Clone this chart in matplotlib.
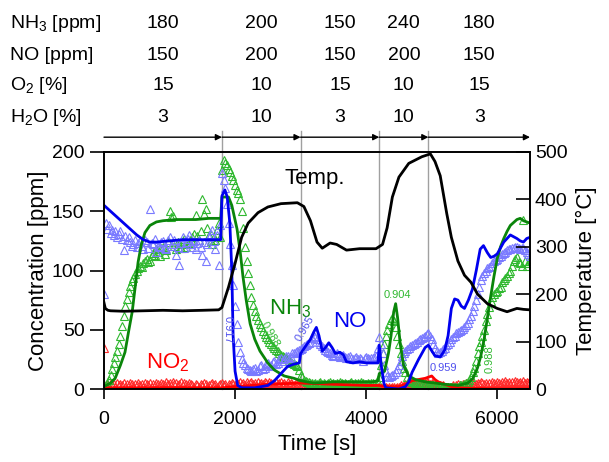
import numpy as np
import matplotlib
matplotlib.use("Agg")
import matplotlib.pyplot as plt
from matplotlib.transforms import blended_transform_factory

plt.rcParams['font.family'] = ['Liberation Sans', 'DejaVu Sans']
plt.rcParams['mathtext.default'] = 'regular'

# experimental points (triangles), sampled every 25 s
t_exp = np.arange(0, 6501, 25)
nh3_exp = (
    [2, 3, 5, 8, 12, 17, 22, 27, 32, 38, 45, 53, 62, 70, 76, 82, 87, 91, 94, 97,
     100, 102, 104, 103, 106, 108, 110, 107, 108, 112, 115, 113, 118, 116, 112, 119, 120, 114, 117, 124]
    + [150, 145, 146, 121, 118, 124, 122, 119, 125, 127, 120, 122, 123, 126, 128, 131, 147, 129, 126, 133,
       160, 148, 152, 136, 130, 125, 122, 128, 126, 134, 140, 128, 185, 193, 191, 189, 186, 183, 180, 176]
    + [172, 168, 165, 160, 150, 136, 120, 108, 98, 88, 78, 71, 66, 62, 58, 55, 52, 49, 46, 44,
       42, 40, 38, 36, 35, 33, 32, 30, 29, 28, 27, 26, 25, 24, 23, 22, 21, 20, 19, 16]
    + [12, 10, 8, 7, 6, 6, 5, 5, 4, 5, 4, 5, 6, 4, 5, 4, 4, 5, 6, 4,
       5, 4, 5, 4, 6, 5, 4, 5, 4, 4, 5, 6, 4, 5, 4, 5, 4, 6, 5, 4]
    + [4, 5, 4, 5, 5, 4, 4, 6, 10, 20, 30, 38, 45, 50, 55, 58, 60, 57, 52, 45,
       38, 30, 24, 18, 14, 10, 8, 7, 6, 6, 5, 5, 5, 4, 4, 4, 4, 3, 3, 3]
    + [3, 3, 3, 2, 2, 2, 2, 2, 2, 2, 2, 2, 2, 2, 2, 2, 2, 3, 3, 3,
       4, 5, 6, 8, 10, 14, 18, 24, 30, 36, 40, 45, 50, 57, 63, 69, 74, 78, 80, 82]
    + [83, 85, 86, 90, 92, 94, 95, 98, 100, 104, 108, 110, 111, 107, 106, 104, 143, 108, 104, 106, 108]
)
no_exp = (
    [80, 140, 135, 138, 132, 134, 130, 133, 128, 131, 133, 127, 117, 129, 126, 128, 124, 121, 122, 126,
     120, 123, 125, 121, 118, 126, 124, 119, 152, 123, 122, 127, 116, 121, 120, 124, 125, 119, 118, 126]
    + [128, 121, 122, 126, 113, 120, 105, 123, 128, 119, 124, 127, 130, 122, 120, 125, 118, 123, 126, 120,
       113, 124, 108, 122, 128, 131, 134, 125, 118, 130, 105, 138, 182, 176, 170, 156, 140, 122, 105, 88]
    + [70, 55, 40, 31, 25, 22, 20, 18, 17, 16, 15, 17, 18, 15, 16, 19, 20, 17, 18, 21,
       22, 19, 20, 23, 24, 21, 22, 25, 26, 24, 25, 28, 28, 26, 27, 30, 30, 31, 32, 33]
    + [34, 35, 36, 37, 38, 39, 40, 43, 45, 44, 42, 40, 38, 36, 35, 33, 32, 31, 30, 29,
       28, 29, 30, 28, 27, 28, 29, 27, 26, 27, 28, 26, 25, 26, 27, 25, 26, 25, 24, 26]
    + [27, 26, 25, 26, 26, 27, 28, 35, 44, 38, 30, 20, 14, 11, 10, 11, 12, 13, 14, 17,
       20, 24, 28, 30, 32, 34, 35, 36, 37, 38, 39, 40, 41, 42, 43, 44, 45, 46, 47, 45]
    + [42, 38, 35, 32, 30, 31, 32, 34, 35, 37, 38, 40, 42, 44, 45, 47, 48, 49, 50, 51,
       52, 54, 56, 59, 62, 66, 70, 75, 80, 86, 92, 95, 98, 100, 102, 103, 104, 106, 108, 109]
    + [110, 111, 112, 114, 115, 116, 117, 118, 118, 119, 119, 120, 120, 119, 118, 119, 119, 117, 116, 114, 112]
)
no2_exp = (
    [35, 3, 4, 2, 5, 3, 4, 2, 5, 3, 4, 3, 5, 2, 4, 3, 5, 4, 2, 4,
     3, 5, 3, 4, 2, 5, 4, 3, 5, 2, 4, 3, 5, 4, 3, 5, 4, 3, 6, 4]
    + [5, 3, 6, 4, 5, 3, 4, 6, 3, 5, 4, 3, 5, 4, 3, 2, 4, 3, 2, 4,
       3, 5, 4, 2, 3, 4, 5, 3, 4, 2, 3, 4, 5, 3, 4, 2, 4, 3, 5, 4]
    + [3, 5, 4, 6, 4, 5, 3, 6, 4, 5, 6, 4, 5, 3, 6, 4, 5, 4, 6, 5,
       4, 6, 5, 3, 5, 6, 4, 5, 6, 4, 5, 3, 6, 4, 5, 4, 3, 5, 4, 3]
    + [4, 3, 2, 4, 3, 2, 3, 4, 2, 3, 2, 3, 4, 2, 3, 2, 3, 2, 3, 4,
       2, 3, 2, 3, 2, 3, 2, 3, 2, 3, 2, 1, 2, 1, 2, 1, 2, 3, 2, 1]
    + [2, 1, 2, 1, 2, 3, 2, 1, 2, 1, 2, 1, 2, 1, 2, 1, 2, 2, 1, 2,
       2, 3, 2, 3, 4, 3, 4, 5, 4, 5, 3, 4, 5, 6, 5, 4, 5, 6, 5, 4]
    + [5, 4, 3, 4, 2, 3, 2, 3, 2, 1, 2, 1, 2, 3, 2, 3, 4, 3, 2, 4,
       3, 5, 4, 3, 4, 5, 3, 4, 5, 4, 6, 5, 4, 5, 3, 5, 4, 6, 5, 4]
    + [6, 5, 4, 6, 5, 7, 5, 6, 4, 6, 5, 7, 6, 5, 6, 4, 7, 5, 6, 5, 6]
)

# model lines
t_nh3 = [0, 100, 170, 250, 320, 380, 430, 480, 520, 570, 625, 700, 800, 900, 1100, 1400, 1600, 1780,
         1800, 1900, 1950, 2030, 2080, 2120, 2170, 2230, 2300, 2380, 2500, 2600, 2750, 2900, 3000,
         3200, 3500, 4100, 4180, 4200, 4280, 4340, 4380, 4420, 4450, 4480, 4520, 4570, 4650, 4750,
         4900, 5050, 5200, 5400, 5550, 5630, 5700, 5750, 5800, 5850, 5900, 5950, 6000, 6050, 6100,
         6150, 6200, 6300, 6350, 6400, 6500]
nh3_mod = [2, 5, 9, 20, 31, 50, 65, 88, 107, 122, 132, 138, 141, 142, 143, 143, 144, 144,
           162, 162, 155, 135, 115, 95, 75, 55, 42, 32, 22, 16, 11, 9, 7,
           5, 6, 6, 7, 13, 15, 30, 45, 65, 72, 60, 38, 20, 11, 8,
           6, 5, 4, 3, 5, 9, 18, 28, 42, 60, 78, 95, 110, 120, 127,
           133, 138, 143, 144, 142, 140]

t_no = [0, 100, 200, 300, 400, 500, 600, 700, 800, 1000, 1200, 1400, 1600, 1780, 1800, 1845, 1880,
        1920, 1950, 1970, 2000, 2040, 2100, 2300, 2500, 2600, 2700, 2800, 2900, 2980, 3000, 3050,
        3100, 3150, 3200, 3240, 3280, 3330, 3380, 3430, 3480, 3530, 3600, 3650, 3700, 3800, 3900,
        4000, 4100, 4180, 4200, 4230, 4270, 4300, 4500, 4600, 4650, 4700, 4800, 4900, 4950, 4980,
        5050, 5130, 5200, 5250, 5300, 5350, 5400, 5450, 5500, 5560, 5620, 5680, 5740, 5790, 5850,
        5900, 5950, 6000, 6050, 6100, 6200, 6300, 6350, 6400, 6450, 6500]
no_mod = [155, 150, 145, 140, 135, 130, 126, 124, 124, 125, 126, 126, 126, 126, 163, 168, 162,
          140, 100, 45, 15, 3, 1, 1, 3, 7, 13, 19, 21, 22, 30, 34,
          38, 42, 48, 52, 45, 32, 35, 39, 35, 30, 31, 29, 23, 22, 23,
          22, 22, 22, 37, 20, 5, 1, 0, 2, 6, 14, 25, 35, 37, 34,
          28, 27, 33, 45, 68, 76, 75, 70, 68, 75, 84, 100, 118, 121, 115,
          111, 112, 114, 119, 124, 130, 127, 125, 124, 127, 128]

t_no2 = [0, 500, 1000, 1500, 1800, 2000, 2500, 3000, 3500, 4000, 4200, 4300, 4500, 4600, 4700,
         4800, 4900, 5000, 5050, 5100, 5200, 5300, 5400, 6000, 6500]
no2_mod = [1, 1, 1, 1, 1, 2, 4, 5, 4, 3, 3, 2, 2, 4, 7, 8, 9, 11, 8, 6, 4, 2, 1, 0, 0]

t_temp = [0, 20, 60, 100, 300, 600, 900, 1200, 1500, 1750, 1800, 1900, 2000, 2100, 2200, 2350,
          2500, 2700, 2950, 3050, 3150, 3250, 3330, 3450, 3550, 3700, 3900, 4150, 4250, 4320, 4400,
          4500, 4650, 4850, 4980, 5050, 5130, 5230, 5300, 5400, 5500, 5600, 5700, 5850, 6000, 6150,
          6300, 6400, 6500]
temp = [182, 170, 166, 165, 164, 165, 166, 165, 166, 167, 172, 215, 265, 320, 350, 372,
        384, 391, 393, 385, 355, 310, 297, 308, 305, 293, 296, 296, 305, 340, 405,
        447, 476, 490, 496, 480, 450, 370, 320, 270, 240, 225, 200, 180, 170, 163,
        170, 168, 167]

# test conditions
switch_t = [0, 1800, 3000, 4200, 4950, 6500]
row_labels = ['NH$_3$ [ppm]', 'NO [ppm]', 'O$_2$ [%]', 'H$_2$O [%]']
row_values = [['180', '200', '150', '240', '180'],
              ['150', '200', '150', '200', '150'],
              ['15', '10', '15', '10', '15'],
              ['3', '10', '3', '10', '3']]

fig = plt.figure(figsize=(6.09, 4.62), dpi=100)
ax = fig.add_axes([104 / 609, 73 / 462, 426 / 609, 237 / 462])
ax2 = ax.twinx()

ax.set_xlim(0, 6500)
ax.set_ylim(0, 200)
ax2.set_ylim(0, 500)

# segment lines and arrows
for t in switch_t[1:-1]:
    ax.plot([t, t], [0, 217.5], color='#a0a0a0', lw=1, clip_on=False, zorder=0)
for a, b in zip(switch_t[:-1], switch_t[1:]):
    ax.annotate('', xy=(b, 212.5), xytext=(a, 212.5), annotation_clip=False,
                arrowprops=dict(arrowstyle='-|>', color='black', lw=1,
                                shrinkA=0, shrinkB=0, mutation_scale=9))

# table of conditions
tr = blended_transform_factory(ax.transData, fig.transFigure)
row_y = [1 - 24 / 462, 1 - 55 / 462, 1 - 86 / 462, 1 - 117 / 462]
for lab, vals, y in zip(row_labels, row_values, row_y):
    fig.text(10 / 609, y, lab, fontsize=14, va='center', ha='left')
    for a, b, v in zip(switch_t[:-1], switch_t[1:], vals):
        ax.text((a + b) / 2, y, v, transform=tr, fontsize=14, va='center', ha='center')

mk = dict(marker='^', ls='none', markersize=6, markerfacecolor='none', markeredgewidth=0.8)
ax.plot(t_exp, no2_exp, markeredgecolor='#ff2a2a', **mk)
ax.plot(t_exp, nh3_exp, markeredgecolor='#2fb82f', **mk)
ax.plot(t_exp, no_exp, markeredgecolor='#7a7aff', **mk)

ax.plot(t_no2, no2_mod, color='#ff0000', lw=2)
ax.plot(t_nh3, nh3_mod, color='#0a850a', lw=2)
ax.plot(t_no, no_mod, color='#0000ee', lw=2)
ax2.plot(t_temp, temp, color='black', lw=2)

# labels on curves
ax.text(3210, 178, 'Temp.', fontsize=16, ha='center', va='center', color='black')
ax.text(2840, 68, 'NH$_3$', fontsize=16, ha='center', va='center', color='#0a850a')
ax.text(3755, 57, 'NO', fontsize=16, ha='center', va='center', color='#0000ee')
ax.text(977, 22, 'NO$_2$', fontsize=16, ha='center', va='center', color='#ff0000')

ax.text(1880, 50, '0.917', fontsize=8, rotation=-90, ha='center', va='center', color='#5050ee')
ax.text(2530, 46, '0.988', fontsize=8, rotation=-60, ha='center', va='center', color='#2fb82f')
ax.text(3070, 51, '0.965', fontsize=8, rotation=60, ha='center', va='center', color='#5050ee')
ax.text(4470, 79, '0.904', fontsize=8, ha='center', va='center', color='#2fb82f')
ax.text(5180, 18, '0.959', fontsize=8, ha='center', va='center', color='#5050ee')
ax.text(5890, 25, '0.988', fontsize=8, rotation=90, ha='center', va='center', color='#2fb82f')

ax.set_xticks([0, 2000, 4000, 6000])
ax.set_yticks([0, 50, 100, 150, 200])
ax2.set_yticks([0, 100, 200, 300, 400, 500])
ax.tick_params(axis='both', labelsize=14, direction='out', width=1.2)
ax.tick_params(axis='y', length=10, pad=4)
ax.tick_params(axis='x', length=7, pad=9)
ax2.tick_params(axis='y', labelsize=14, direction='in', length=10, width=1.2)

ax.set_xlabel('Time [s]', fontsize=16, labelpad=4)
ax.set_ylabel('Concentration [ppm]', fontsize=16, labelpad=2)
ax2.set_ylabel('Temperature [°C]', fontsize=16, labelpad=6)

for a in (ax, ax2):
    for s in a.spines.values():
        s.set_linewidth(1.2)

fig.savefig('out.png', dpi=100)
